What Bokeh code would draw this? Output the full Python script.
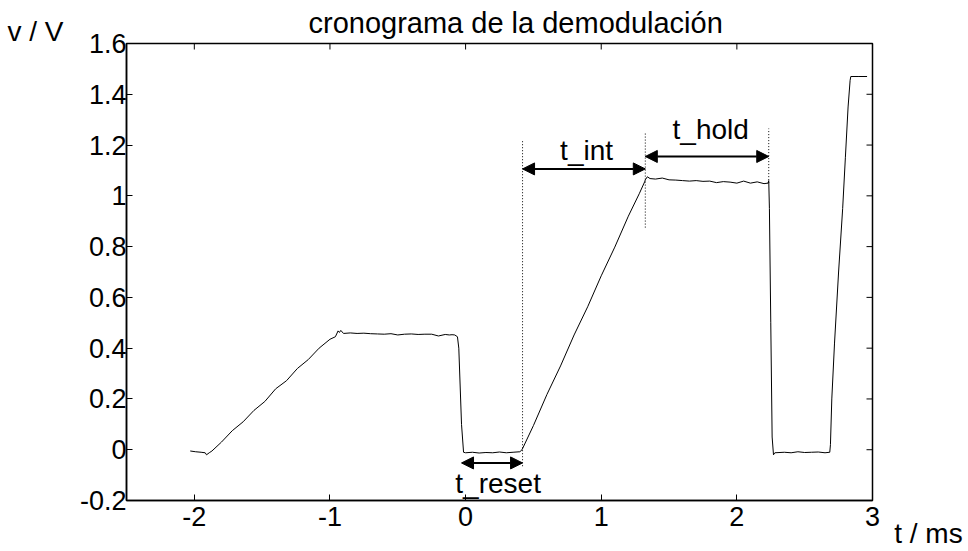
import math
from bokeh.plotting import figure
from bokeh.models import (LinearAxis, FixedTicker, CustomJSTickFormatter, Arrow,
                          NormalHead, Label, Range1d)
from bokeh.embed import file_html
from bokeh.resources import INLINE

# ---- data (t in ms, v in V) ----
t_sig = [-2.03, -1.99, -1.95, -1.92, -1.91, -1.89, -1.87,
         -1.80, -1.72, -1.64, -1.56, -1.48, -1.40, -1.32, -1.24, -1.16, -1.08, -1.00, -0.96, -0.94,
         -0.93, -0.92, -0.90, -0.85, -0.80, -0.75, -0.70, -0.65, -0.60, -0.55, -0.50, -0.45, -0.40,
         -0.35, -0.30, -0.25, -0.20, -0.15, -0.12, -0.10, -0.08, -0.06,
         -0.05, -0.03, -0.015,
         0.0, 0.05, 0.10, 0.15, 0.20, 0.25, 0.30, 0.35, 0.40, 0.416,
         0.50, 0.60, 0.70, 0.80, 0.90, 1.00, 1.10, 1.20, 1.28, 1.32,
         1.325, 1.34, 1.36, 1.40, 1.45, 1.50, 1.55, 1.60, 1.65, 1.70, 1.75, 1.80, 1.85, 1.90,
         1.95, 2.00, 2.05, 2.10, 2.15, 2.20, 2.23, 2.235,
         2.24, 2.25, 2.26, 2.27, 2.28,
         2.35, 2.40, 2.45, 2.50, 2.55, 2.60, 2.65, 2.685,
         2.69, 2.70, 2.72, 2.75, 2.78, 2.80, 2.82, 2.835, 2.84, 2.90, 2.96]
v_sig = [-0.005, -0.008, -0.010, -0.012, -0.020, -0.012, -0.005,
         0.030, 0.075, 0.110, 0.155, 0.190, 0.240, 0.272, 0.320, 0.355, 0.400, 0.435, 0.445, 0.468,
         0.462, 0.470, 0.458, 0.460, 0.458, 0.459, 0.457, 0.456, 0.455, 0.457, 0.452, 0.455, 0.456,
         0.454, 0.455, 0.455, 0.448, 0.454, 0.452, 0.453, 0.452, 0.445,
         0.400, 0.100, -0.010,
         -0.012, -0.010, -0.013, -0.011, -0.012, -0.009, -0.012, -0.010, -0.008, 0.000,
         0.095, 0.218, 0.330, 0.452, 0.563, 0.685, 0.798, 0.920, 1.008, 1.055,
         1.063, 1.075, 1.068, 1.066, 1.070, 1.063, 1.062, 1.060, 1.058, 1.060, 1.057, 1.058, 1.052, 1.056,
         1.054, 1.050, 1.058, 1.050, 1.055, 1.048, 1.050, 1.060,
         0.950, 0.500, 0.050, -0.020, -0.012,
         -0.010, -0.012, -0.008, -0.011, -0.010, -0.009, -0.012, -0.010,
         0.020, 0.200, 0.420, 0.700, 0.950, 1.150, 1.350, 1.455, 1.470, 1.470, 1.470]

x_ticks = [-2, -1, 0, 1, 2, 3]
y_ticks = [-0.2, 0, 0.2, 0.4, 0.6, 0.8, 1.0, 1.2, 1.4, 1.6]

# phase markers (dotted lines): time, bottom, top
mark_t = [0.42, 1.325, 2.235]
mark_v0 = [-0.065, 0.875, 1.05]
mark_v1 = [1.215, 1.25, 1.265]

# double arrows: start, end, level, label, label position
arr_t0 = [-0.03, 0.42, 1.325]
arr_t1 = [0.42, 1.325, 2.235]
arr_v = [-0.052, 1.106, 1.155]
arr_lbl = ["t_reset", "t_int", "t_hold"]
lbl_t = [0.24, 0.892, 1.807]
lbl_v = [-0.164, 1.148, 1.231]

# texts outside the axes box (positions in data units of the axes)
title_txt, title_t, title_v = "cronograma de la demodulación", 0.369, 1.649
ylab_txt, ylab_t, ylab_v = "v / V", -3.378, 1.614
xlab_txt, xlab_t, xlab_v = "t / ms", 3.16, -0.36

FONT = "Liberation Sans"
BASE_SHIFT = 8  # pixels: puts the text baseline where the reference has it
X0, X1 = -2.5, 3.0
Y0, Y1 = -0.2, 1.6
FW, FH = 746, 457
BL, BT = 126, 43
W, H = 966, 549

p = figure(width=W, height=H, output_backend="svg", toolbar_location=None,
           x_range=Range1d(X0, X1), y_range=Range1d(Y0, Y1),
           min_border_left=BL, min_border_right=W - BL - FW,
           min_border_top=BT, min_border_bottom=H - BT - FH,
           x_axis_type=None, y_axis_type=None)
p.background_fill_color = "white"
p.border_fill_color = "white"
p.outline_line_color = "black"
p.outline_line_width = 1.5
p.xgrid.visible = False
p.ygrid.visible = False

fmt = CustomJSTickFormatter(code="return Number(tick.toFixed(1)).toString();")


def make_axis(ticks):
    ax = LinearAxis(ticker=FixedTicker(ticks=ticks), formatter=fmt)
    ax.major_tick_in = 6
    ax.major_tick_out = 0
    ax.minor_tick_line_color = None
    ax.axis_line_color = "black"
    ax.axis_line_width = 1.5
    ax.major_tick_line_color = "black"
    ax.major_tick_line_width = 1
    ax.major_label_text_font = FONT
    ax.major_label_text_font_size = "27px"
    ax.major_label_text_color = "black"
    return ax


xb = make_axis(x_ticks)
xb.major_label_standoff = 6
yl = make_axis(y_ticks)
yl.major_label_standoff = 0
p.add_layout(xb, "below")
p.add_layout(yl, "left")

# inward ticks on the top and right edges of the box (half of each dash is clipped by the frame)
p.scatter(x_ticks, [y_ticks[-1]] * len(x_ticks), marker="dash", angle=math.pi / 2, size=12,
          line_color="black", line_width=1)
p.scatter([x_ticks[-1]] * len(y_ticks), y_ticks, marker="dash", size=12,
          line_color="black", line_width=1)

p.line(t_sig, v_sig, line_color="black", line_width=1)

for t, a, b in zip(mark_t, mark_v0, mark_v1):
    p.line([t, t], [a, b], line_color="black", line_width=1, line_dash="1 2")

for a, b, v in zip(arr_t0, arr_t1, arr_v):
    p.add_layout(Arrow(x_start=a, y_start=v, x_end=b, y_end=v, line_width=2, line_color="black",
                       start=NormalHead(size=12, fill_color="black", line_color="black"),
                       end=NormalHead(size=12, fill_color="black", line_color="black")))


def make_label(txt, t, v, align, size="28px"):
    return Label(x=t, y=v, text=txt, text_align=align, text_baseline="alphabetic",
                 y_offset=BASE_SHIFT, text_font=FONT, text_font_size=size, text_color="black")


for s, t, v in zip(arr_lbl, lbl_t, lbl_v):
    p.add_layout(make_label(s, t, v, "center"))

# labels placed in side panels are drawn without being clipped to the axes box
p.add_layout(make_label(title_txt, title_t, title_v, "center", "29px"), "above")
p.add_layout(make_label(ylab_txt, ylab_t, ylab_v, "left"), "left")
p.add_layout(make_label(xlab_txt, xlab_t, xlab_v, "left"), "right")

open("out.html", "w").write(file_html(p, INLINE))
